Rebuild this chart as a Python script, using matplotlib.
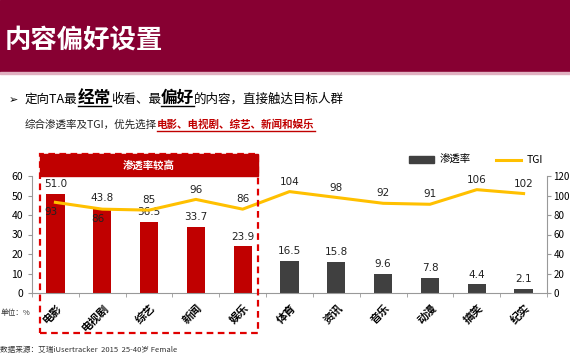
import numpy as np
import matplotlib
matplotlib.use("Agg")
import matplotlib.pyplot as plt
from matplotlib.patches import Rectangle, Patch
from matplotlib.lines import Line2D

plt.rcParams['font.family'] = ['Noto Sans CJK SC', 'DejaVu Sans']

# ---------------------------------------------------------------------------
# Data
# ---------------------------------------------------------------------------
categories = ["电影", "电视剧", "综艺", "新闻", "娱乐", "体育", "资讯", "音乐", "动漫", "搞笑", "纪实"]
penetration = [51.0, 43.8, 36.5, 33.7, 23.9, 16.5, 15.8, 9.6, 7.8, 4.4, 2.1]
tgi = [93, 86, 85, 96, 86, 104, 98, 92, 91, 106, 102]
n_highlight = 5
tgi_below = [True, True, False, False, False, False, False, False, False, False, False]

RED = "#C00000"
DARK = "#404040"
ORANGE = "#FFC000"
CRIMSON = "#870032"

W, H = 570, 360
fig = plt.figure(figsize=(W / 100, H / 100), dpi=100)


def fx(px):
    return px / W


def fy(py):
    return 1 - py / H


# ---------------------------------------------------------------------------
# Header band and text
# ---------------------------------------------------------------------------
fig.patches.append(Rectangle((0, fy(72)), 1, 72 / H, transform=fig.transFigure,
                             color=CRIMSON, zorder=0))
fig.patches.append(Rectangle((0, fy(73.5)), 1, 1.5 / H, transform=fig.transFigure,
                             color="#E0B0C0", zorder=0))
fig.text(fx(5), fy(40), "内容偏好设置", color="white", fontsize=19,
         fontweight="bold", va="center", ha="left")

renderer = fig.canvas.get_renderer()


def run_text(x_px, y_px, pieces):
    """Place text pieces one after another on a baseline."""
    x = x_px
    for s, kw, underline in pieces:
        t = fig.text(fx(x), fy(y_px), s, va="baseline", ha="left", **kw)
        bb = t.get_window_extent(renderer)
        if underline:
            fig.add_artist(Line2D([fx(x), fx(x) + bb.width / W],
                                  [fy(y_px + 2.5)] * 2, transform=fig.transFigure,
                                  color=kw.get("color", "black"), lw=1))
        x += bb.width


fig.text(fx(9), fy(103), "➢", fontsize=8, family=["DejaVu Sans"], va="baseline")
run_text(25, 103, [
    ("定向TA最", dict(fontsize=9, color="black"), False),
    ("经常", dict(fontsize=12, color="black", fontweight="bold"), True),
    ("收看、最", dict(fontsize=9, color="black"), False),
    ("偏好", dict(fontsize=12, color="black", fontweight="bold"), True),
    ("的内容，直接触达目标人群", dict(fontsize=9, color="black"), False),
])
run_text(25, 128, [
    ("综合渗透率及TGI，优先选择", dict(fontsize=7.6, color="#222222"), False),
    ("电影、电视剧、综艺、新闻和娱乐", dict(fontsize=7.6, color=RED, fontweight="bold"), True),
])

# ---------------------------------------------------------------------------
# Chart
# ---------------------------------------------------------------------------
ax = fig.add_axes([fx(32), fy(293), fx(547) - fx(32), (293 - 176) / H])
x = np.arange(len(categories))
colors = [RED if i < n_highlight else DARK for i in range(len(categories))]
ax.bar(x, penetration, width=0.39, color=colors, zorder=2)
for xi, v in zip(x, penetration):
    ax.text(xi, v + 2.5, f"{v:.1f}", ha="center", va="bottom", fontsize=7.5,
            color="#222222", family=["DejaVu Sans"])

ax.set_xlim(-0.5, len(categories) - 0.5)
ax.set_ylim(0, 60)
ax.set_yticks(np.arange(0, 61, 10))
ax.set_xticks(x)
ax.set_xticklabels(categories, rotation=45, ha="right", rotation_mode="anchor",
                   fontsize=8, fontweight="bold")
ax.set_xticks(np.arange(-0.5, len(categories), 1), minor=True)
ax.tick_params(axis="x", which="major", length=0, pad=6)
ax.tick_params(axis="x", which="minor", length=3, color="#999999")
ax.tick_params(axis="y", labelsize=7.5, color="#999999", length=3)
for side in ["top", "right"]:
    ax.spines[side].set_visible(False)
for side in ["left", "bottom"]:
    ax.spines[side].set_color("#999999")

ax2 = ax.twinx()
ax2.plot(x, tgi, color=ORANGE, lw=2.2, zorder=3)
ax2.set_ylim(0, 120)
ax2.set_yticks(np.arange(0, 121, 20))
ax2.tick_params(axis="y", labelsize=7, color="#999999", length=3, pad=1.5)
for side in ["top", "left", "bottom"]:
    ax2.spines[side].set_visible(False)
ax2.spines["right"].set_color("#999999")
for xi, v, below in zip(x, tgi, tgi_below):
    if below:
        ax2.text(xi - 0.1, v - 5, f"{v}", ha="center", va="top", fontsize=7.5,
                 color="#222222", family=["DejaVu Sans"])
    else:
        ax2.text(xi, v + 5, f"{v}", ha="center", va="bottom", fontsize=7.5,
                 color="#222222", family=["DejaVu Sans"])

handles = [Patch(color=DARK), Line2D([], [], color=ORANGE, lw=2.2)]
fig.legend(handles, ["渗透率", "TGI"], loc="center", ncol=2,
           bbox_to_anchor=(fx(476), fy(160)), frameon=False, fontsize=7.5,
           handlelength=2.4, handleheight=0.6, columnspacing=2.5, handletextpad=0.5)

# highlight box around the first five categories
fig.patches.append(Rectangle((fx(40), fy(333)), fx(258) - fx(40), (333 - 154) / H,
                             transform=fig.transFigure, fill=False, ec="#E00000",
                             lw=1.6, ls=(0, (3, 2)), zorder=5))
fig.patches.append(Rectangle((fx(40), fy(176)), fx(258) - fx(40), 22 / H,
                             transform=fig.transFigure, color=RED, zorder=5))
fig.text(fx(149), fy(165), "渗透率较高", color="white", fontsize=7.5,
         fontweight="bold", ha="center", va="center", zorder=6)

fig.text(fx(1), fy(313), "单位：%", fontsize=5.5, ha="left", va="center", color="#333333")
fig.text(fx(0), fy(350), "数据来源：艾瑞iUsertracker  2015  25-40岁 Female", fontsize=5.5,
         ha="left", va="center", color="#333333")

fig.savefig("out.png", dpi=100)
